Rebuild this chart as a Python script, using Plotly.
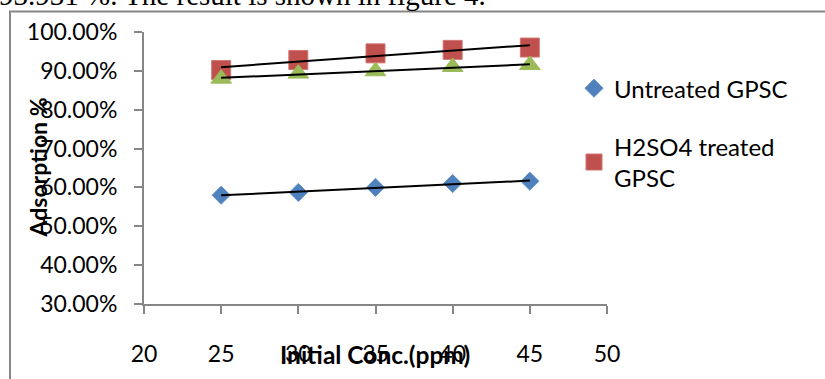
import numpy as np
import plotly.graph_objects as go

conc = [25, 30, 35, 40, 45]
untreated = [0.580, 0.587, 0.600, 0.610, 0.616]
h2so4 = [0.902, 0.928, 0.945, 0.954, 0.960]
third = [0.880, 0.893, 0.899, 0.910, 0.915]
x_ticks = [20, 25, 30, 35, 40, 45, 50]

W, H = 825, 379
L, R, T, B = 144, 607, 32, 311
pw, ph = R - L, B - T

def px(x):
    return (x - L) / pw

def py(y):
    return (B - y) / ph

FONT = "Lato"
TS = 23
fig = go.Figure()

fig.add_trace(go.Scatter(x=conc, y=untreated, mode="markers", name="Untreated GPSC",
                         legendgroup="a",
                         marker=dict(symbol="diamond", size=14, color="#4F81BD",
                                     line=dict(color="#6A95CA", width=1))))
fig.add_trace(go.Scatter(x=conc, y=h2so4, mode="markers", name="H2SO4 treated<br>GPSC",
                         legendgroup="b",
                         marker=dict(symbol="square", size=19, color="#C0504D",
                                     line=dict(color="#D07572", width=1))))
fig.add_trace(go.Scatter(x=conc, y=third, mode="markers", name="third", showlegend=False,
                         marker=dict(symbol="triangle-up", size=18, color="#9BBB59",
                                     line=dict(color="#9BBB59", width=1))))

for ys in (untreated, h2so4, third):
    m, c = np.polyfit(conc, ys, 1)
    xs = [conc[0], conc[-1]]
    fig.add_trace(go.Scatter(x=xs, y=[m * v + c for v in xs], mode="lines", showlegend=False,
                             line=dict(color="black", width=2), hoverinfo="skip"))

fig.update_layout(
    width=W, height=H,
    margin=dict(l=L, r=W - R, t=T, b=H - B, pad=0),
    paper_bgcolor="white", plot_bgcolor="white",
    font=dict(family=FONT, size=TS, color="black"),
    showlegend=True,
    legend=dict(x=px(574), y=py(67), xanchor="left", yanchor="top",
                traceorder="grouped", tracegroupgap=24, itemwidth=30,
                font=dict(family=FONT, size=24, color="black"),
                bgcolor="rgba(0,0,0,0)"),
    xaxis=dict(range=[20, 50], tickvals=x_ticks, ticktext=[str(v) for v in x_ticks],
               showgrid=False, zeroline=False, showline=True, linecolor="#868686", linewidth=2,
               ticks="outside", ticklen=8, tickcolor="#868686", tickwidth=2,
               ticklabelstandoff=20, tickfont=dict(size=TS)),
    yaxis=dict(range=[0.3, 1.0], dtick=0.1, tick0=0.3, tickformat=".2%",
               showgrid=False, zeroline=False, showline=True, linecolor="#868686", linewidth=2,
               ticks="outside", ticklen=8, tickcolor="#868686", tickwidth=2,
               ticklabelstandoff=12, tickfont=dict(size=TS)),
)

# chart border (cropped by the picture edges)
fig.add_shape(type="rect", xref="paper", yref="paper",
              x0=px(10), x1=px(W + 20), y0=py(H + 20), y1=py(11),
              line=dict(color="#868686", width=2), fillcolor="rgba(0,0,0,0)", layer="below")

fig.add_annotation(text="<b>Adsorption %</b>", xref="paper", yref="paper",
                   x=px(38), y=py(171), textangle=-90, showarrow=False,
                   xanchor="center", yanchor="middle", font=dict(family=FONT, size=TS))
fig.add_annotation(text="<b>Initial Conc.(ppm)</b>", xref="paper", yref="paper",
                   x=px(375), y=py(363), showarrow=False,
                   xanchor="center", yanchor="middle", font=dict(family=FONT, size=24.5))
fig.add_annotation(text="93.931 %. The result is shown in figure 4.", xref="paper", yref="paper",
                   x=px(488), y=py(12), showarrow=False, xanchor="right", yanchor="bottom",
                   font=dict(family="Liberation Serif", size=29, color="black"))

fig.write_html("out.html")
